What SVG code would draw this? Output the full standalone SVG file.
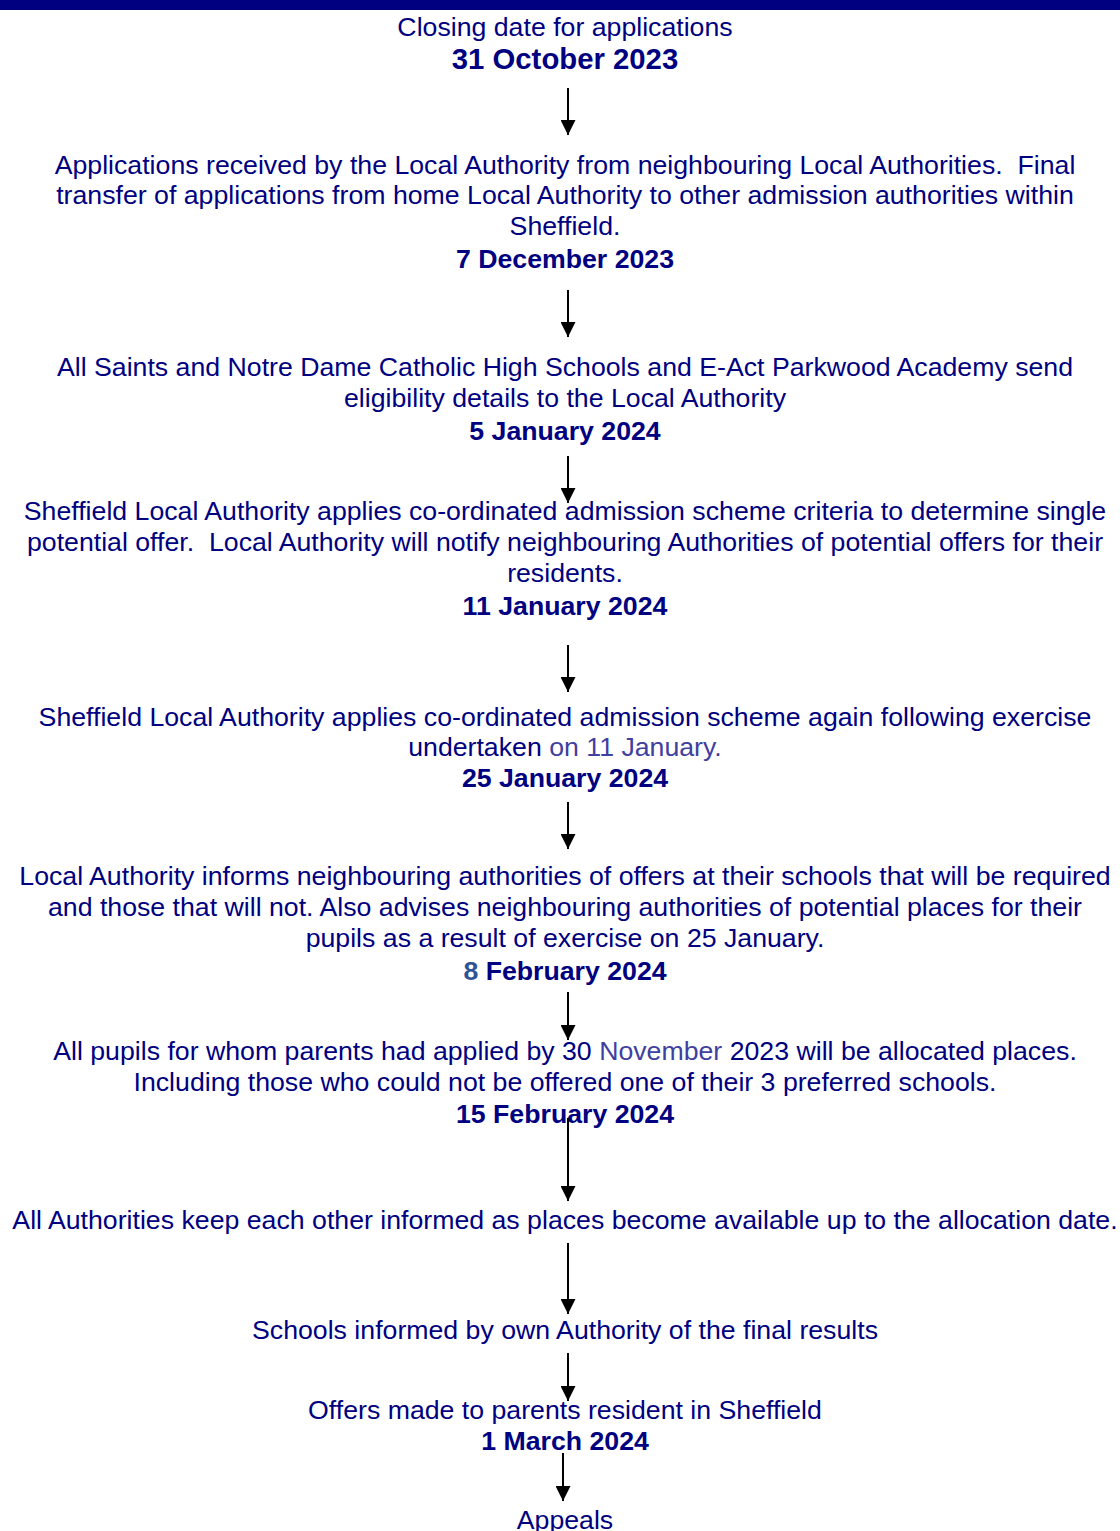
<svg xmlns="http://www.w3.org/2000/svg" width="1120" height="1531" viewBox="0 0 1120 1531">
<style>
text{font-family:"Liberation Sans",Arial,sans-serif;fill:#000080;text-anchor:middle;white-space:pre}
.b{font-size:26.7px}
.d{font-size:26.7px;font-weight:bold}
.d.big{font-size:29.3px}
.l{fill:#4040a0}
.s{fill:#2f5496}
.c line{stroke:#000;stroke-width:2;marker-end:url(#ah)}
</style>
<defs>
<marker id="ah" viewBox="0 0 15 15" refX="15" refY="7.5" markerWidth="15" markerHeight="15" markerUnits="userSpaceOnUse" orient="auto">
<path d="M0,0 L15,7.5 L0,15 z" fill="#000"/>
</marker>
</defs>
<rect x="0" y="0" width="1120" height="10" fill="#000080"/>
<g id="n1"><text class="b" x="565" y="36">Closing date for applications</text><text class="d big" x="565" y="69">31 October 2023</text></g>
<g id="n2"><text class="b" x="565" y="174" xml:space="preserve">Applications received by the Local Authority from neighbouring Local Authorities.  Final</text><text class="b" x="565" y="204">transfer of applications from home Local Authority to other admission authorities within</text><text class="b" x="565" y="235">Sheffield.</text><text class="d" x="565" y="268">7 December 2023</text></g>
<g id="n3"><text class="b" x="565" y="376">All Saints and Notre Dame Catholic High Schools and E-Act Parkwood Academy send</text><text class="b" x="565" y="407">eligibility details to the Local Authority</text><text class="d" x="565" y="440">5 January 2024</text></g>
<g id="n4"><text class="b" x="565" y="520">Sheffield Local Authority applies co-ordinated admission scheme criteria to determine single</text><text class="b" x="565" y="551" xml:space="preserve">potential offer.  Local Authority will notify neighbouring Authorities of potential offers for their</text><text class="b" x="565" y="582">residents.</text><text class="d" x="565" y="615">11 January 2024</text></g>
<g id="n5"><text class="b" x="565" y="726">Sheffield Local Authority applies co-ordinated admission scheme again following exercise</text><text class="b" x="565" y="756">undertaken <tspan class="l">on 11 January.</tspan></text><text class="d" x="565" y="787">25 January 2024</text></g>
<g id="n6"><text class="b" x="565" y="885">Local Authority informs neighbouring authorities of offers at their schools that will be required</text><text class="b" x="565" y="916">and those that will not. Also advises neighbouring authorities of potential places for their</text><text class="b" x="565" y="947">pupils as a result of exercise on 25 January.</text><text class="d" x="565" y="980"><tspan class="s">8</tspan> February 2024</text></g>
<g id="n7"><text class="b" x="565" y="1060">All pupils for whom parents had applied by 30 <tspan class="l">November</tspan> 2023 will be allocated places.</text><text class="b" x="565" y="1091">Including those who could not be offered one of their 3 preferred schools.</text><text class="d" x="565" y="1123">15 February 2024</text></g>
<g id="n8"><text class="b" x="565" y="1229">All Authorities keep each other informed as places become available up to the allocation date.</text></g>
<g id="n9"><text class="b" x="565" y="1339">Schools informed by own Authority of the final results</text></g>
<g id="n10"><text class="b" x="565" y="1419">Offers made to parents resident in Sheffield</text><text class="d" x="565" y="1450">1 March 2024</text></g>
<g id="n11"><text class="b" x="565" y="1529">Appeals</text></g>
<g id="connectors" class="c">
<line x1="568" y1="88" x2="568" y2="135"/>
<line x1="568" y1="290" x2="568" y2="337"/>
<line x1="568" y1="456" x2="568" y2="503"/>
<line x1="568" y1="645" x2="568" y2="692"/>
<line x1="568" y1="802" x2="568" y2="849"/>
<line x1="568" y1="992" x2="568" y2="1040"/>
<line x1="568" y1="1118" x2="568" y2="1201"/>
<line x1="568" y1="1243" x2="568" y2="1314"/>
<line x1="568" y1="1353" x2="568" y2="1401"/>
<line x1="563" y1="1453" x2="563" y2="1501"/>
</g>
</svg>
